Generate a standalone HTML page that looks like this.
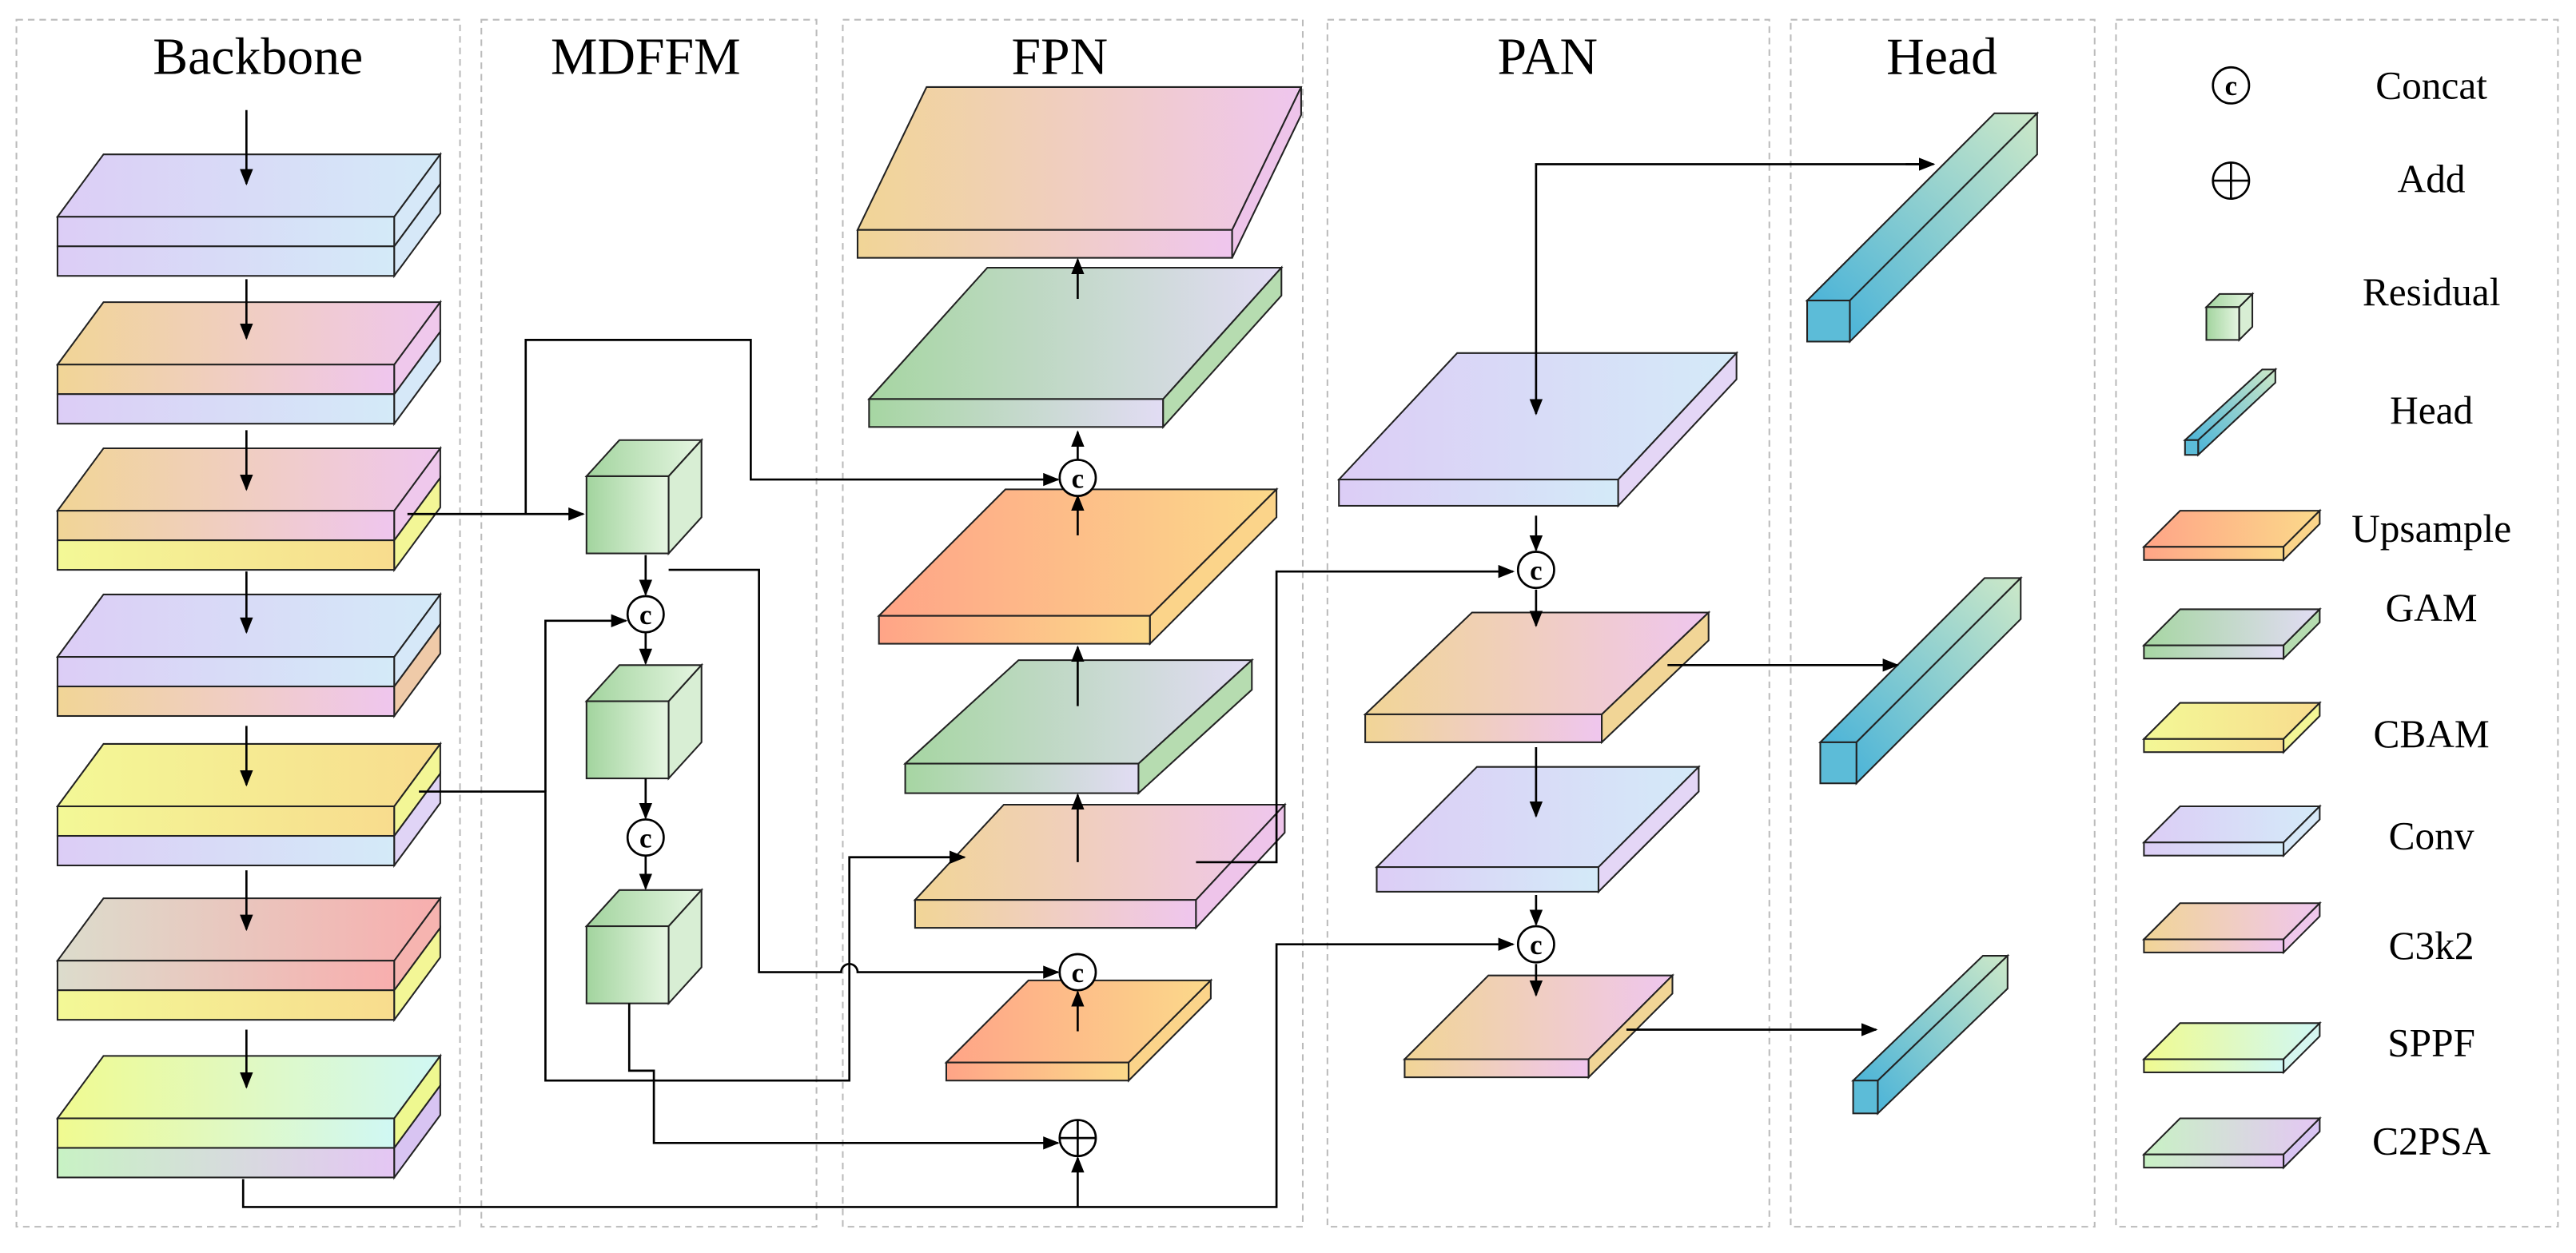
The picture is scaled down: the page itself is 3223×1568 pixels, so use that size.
<!DOCTYPE html>
<html><head><meta charset="utf-8"><style>html,body{margin:0;padding:0;background:#fff}svg{display:block}</style></head>
<body>
<svg width="3223" height="1568" viewBox="0 0 1568 763" preserveAspectRatio="none" xmlns="http://www.w3.org/2000/svg" font-family="Liberation Serif, serif">
<defs>
<linearGradient id="conv"><stop offset="0" stop-color="#dccdf6"/><stop offset="1" stop-color="#d4eaf8"/></linearGradient>
<linearGradient id="c3k2"><stop offset="0" stop-color="#f1d596"/><stop offset="1" stop-color="#efc6ee"/></linearGradient>
<linearGradient id="cbam"><stop offset="0" stop-color="#f3f896"/><stop offset="1" stop-color="#f8dc8e"/></linearGradient>
<linearGradient id="gam"><stop offset="0" stop-color="#a6d6a2"/><stop offset="1" stop-color="#e2dcf4"/></linearGradient>
<linearGradient id="ups"><stop offset="0" stop-color="#ffa487"/><stop offset="1" stop-color="#fbd98a"/></linearGradient>
<linearGradient id="sppf"><stop offset="0" stop-color="#f0fa90"/><stop offset="1" stop-color="#d0f8f4"/></linearGradient>
<linearGradient id="c2psa"><stop offset="0" stop-color="#c8f2c4"/><stop offset="1" stop-color="#e4c6f4"/></linearGradient>
<linearGradient id="grayred"><stop offset="0" stop-color="#dcdccc"/><stop offset="1" stop-color="#f8aeae"/></linearGradient>
<linearGradient id="cube"><stop offset="0" stop-color="#a2d49e"/><stop offset="1" stop-color="#e6f6e2"/></linearGradient>
<linearGradient id="head" x1="0" y1="1" x2="1" y2="0"><stop offset="0" stop-color="#4cb4d8"/><stop offset="1" stop-color="#cce8c8"/></linearGradient>
<marker id="a" markerWidth="10" markerHeight="8" refX="9" refY="4" orient="auto" markerUnits="userSpaceOnUse"><path d="M0,0 L10,4 L0,8 z" fill="#000"/></marker>
</defs>
<g fill="none" stroke="#bbb" stroke-dasharray="4,3" stroke-width="1">
<rect x="10" y="12" width="270" height="735"/><rect x="293" y="12" width="204" height="735"/><rect x="513" y="12" width="280" height="735"/><rect x="808" y="12" width="269" height="735"/><rect x="1090" y="12" width="185" height="735"/><rect x="1288" y="12" width="269" height="735"/>
</g>
<g font-size="32" text-anchor="middle">
<text x="157" y="45">Backbone</text><text x="393" y="45">MDFFM</text><text x="645" y="45">FPN</text><text x="942" y="45">PAN</text><text x="1182" y="45">Head</text>
</g>
<g stroke="#222" stroke-width="1">
<g transform="translate(0,132)"><polygon points="35,0 240,0 268,-38 63,-38" fill="url(#conv)"/><rect x="35" y="0" width="205" height="18" fill="url(#conv)"/><rect x="35" y="18" width="205" height="18" fill="url(#conv)"/><polygon points="240,0 268,-38 268,-20 240,18" fill="#d6e8f8"/><polygon points="240,18 268,-20 268,-2 240,36" fill="#d6e8f8"/></g>
<g transform="translate(0,222)"><polygon points="35,0 240,0 268,-38 63,-38" fill="url(#c3k2)"/><rect x="35" y="0" width="205" height="18" fill="url(#c3k2)"/><rect x="35" y="18" width="205" height="18" fill="url(#conv)"/><polygon points="240,0 268,-38 268,-20 240,18" fill="#efc8ec"/><polygon points="240,18 268,-20 268,-2 240,36" fill="#d6e8f8"/></g>
<g transform="translate(0,311)"><polygon points="35,0 240,0 268,-38 63,-38" fill="url(#c3k2)"/><rect x="35" y="0" width="205" height="18" fill="url(#c3k2)"/><rect x="35" y="18" width="205" height="18" fill="url(#cbam)"/><polygon points="240,0 268,-38 268,-20 240,18" fill="#efc8ec"/><polygon points="240,18 268,-20 268,-2 240,36" fill="#f3f696"/></g>
<g transform="translate(0,400)"><polygon points="35,0 240,0 268,-38 63,-38" fill="url(#conv)"/><rect x="35" y="0" width="205" height="18" fill="url(#conv)"/><rect x="35" y="18" width="205" height="18" fill="url(#c3k2)"/><polygon points="240,0 268,-38 268,-20 240,18" fill="#d6e8f8"/><polygon points="240,18 268,-20 268,-2 240,36" fill="#efcaa8"/></g>
<g transform="translate(0,491)"><polygon points="35,0 240,0 268,-38 63,-38" fill="url(#cbam)"/><rect x="35" y="0" width="205" height="18" fill="url(#cbam)"/><rect x="35" y="18" width="205" height="18" fill="url(#conv)"/><polygon points="240,0 268,-38 268,-20 240,18" fill="#f3f696"/><polygon points="240,18 268,-20 268,-2 240,36" fill="#e0d4f6"/></g>
<g transform="translate(0,585)"><polygon points="35,0 240,0 268,-38 63,-38" fill="url(#grayred)"/><rect x="35" y="0" width="205" height="18" fill="url(#grayred)"/><rect x="35" y="18" width="205" height="18" fill="url(#cbam)"/><polygon points="240,0 268,-38 268,-20 240,18" fill="#f6b4b0"/><polygon points="240,18 268,-20 268,-2 240,36" fill="#f3f696"/></g>
<g transform="translate(0,681)"><polygon points="35,0 240,0 268,-38 63,-38" fill="url(#sppf)"/><rect x="35" y="0" width="205" height="18" fill="url(#sppf)"/><rect x="35" y="18" width="205" height="18" fill="url(#c2psa)"/><polygon points="240,0 268,-38 268,-20 240,18" fill="#eef890"/><polygon points="240,18 268,-20 268,-2 240,36" fill="#d8c4f2"/></g>
<g transform="translate(357,290)"><polygon points="0,0 50,0 70,-22 20,-22" fill="url(#cube)"/><rect x="0" y="0" width="50" height="47" fill="url(#cube)"/><polygon points="50,0 70,-22 70,25 50,47" fill="#d8eed4"/></g>
<g transform="translate(357,427)"><polygon points="0,0 50,0 70,-22 20,-22" fill="url(#cube)"/><rect x="0" y="0" width="50" height="47" fill="url(#cube)"/><polygon points="50,0 70,-22 70,25 50,47" fill="#d8eed4"/></g>
<g transform="translate(357,564)"><polygon points="0,0 50,0 70,-22 20,-22" fill="url(#cube)"/><rect x="0" y="0" width="50" height="47" fill="url(#cube)"/><polygon points="50,0 70,-22 70,25 50,47" fill="#d8eed4"/></g>
<polygon points="522,140 750,140 792,53 564,53" fill="url(#c3k2)"/><rect x="522" y="140" width="228" height="17" fill="url(#c3k2)"/><polygon points="750,140 792,53 792,70 750,157" fill="#eec4ea"/>
<polygon points="529,243 708,243 780,163 601,163" fill="url(#gam)"/><rect x="529" y="243" width="179" height="17" fill="url(#gam)"/><polygon points="708,243 780,163 780,180 708,260" fill="#b6dcb0"/>
<polygon points="535,375 700,375 777,298 612,298" fill="url(#ups)"/><rect x="535" y="375" width="165" height="17" fill="url(#ups)"/><polygon points="700,375 777,298 777,315 700,392" fill="#fbd48a"/>
<polygon points="551,465 693,465 762,402 620,402" fill="url(#gam)"/><rect x="551" y="465" width="142" height="18" fill="url(#gam)"/><polygon points="693,465 762,402 762,420 693,483" fill="#b6dcb0"/>
<polygon points="557,548 728,548 782,490 611,490" fill="url(#c3k2)"/><rect x="557" y="548" width="171" height="17" fill="url(#c3k2)"/><polygon points="728,548 782,490 782,507 728,565" fill="#eec4ea"/>
<polygon points="576,647 687,647 737,597 626,597" fill="url(#ups)"/><rect x="576" y="647" width="111" height="11" fill="url(#ups)"/><polygon points="687,647 737,597 737,608 687,658" fill="#fbd48a"/>
<polygon points="815,292 985,292 1057,215 887,215" fill="url(#conv)"/><rect x="815" y="292" width="170" height="16" fill="url(#conv)"/><polygon points="985,292 1057,215 1057,231 985,308" fill="#e4d6f6"/>
<polygon points="831,435 975,435 1040,373 896,373" fill="url(#c3k2)"/><rect x="831" y="435" width="144" height="17" fill="url(#c3k2)"/><polygon points="975,435 1040,373 1040,390 975,452" fill="#f1d596"/>
<polygon points="838,528 973,528 1034,467 899,467" fill="url(#conv)"/><rect x="838" y="528" width="135" height="15" fill="url(#conv)"/><polygon points="973,528 1034,467 1034,482 973,543" fill="#e4d6f6"/>
<polygon points="855,645 967,645 1018,594 906,594" fill="url(#c3k2)"/><rect x="855" y="645" width="112" height="11" fill="url(#c3k2)"/><polygon points="967,645 1018,594 1018,605 967,656" fill="#f1d596"/>
<polygon points="1100,183 1126,183 1240,69 1214,69" fill="url(#head)"/><polygon points="1126,183 1240,69 1240,94 1126,208" fill="url(#head)"/><rect x="1100" y="183" width="26" height="25" fill="#5cbcd8"/>
<polygon points="1108,452 1130,452 1230,352 1208,352" fill="url(#head)"/><polygon points="1130,452 1230,352 1230,377 1130,477" fill="url(#head)"/><rect x="1108" y="452" width="22" height="25" fill="#5cbcd8"/>
<polygon points="1128,658 1143,658 1222,582 1207,582" fill="url(#head)"/><polygon points="1143,658 1222,582 1222,602 1143,678" fill="url(#head)"/><rect x="1128" y="658" width="15" height="20" fill="#5cbcd8"/>
<g transform="translate(1343,187)"><polygon points="0,0 20,0 28,-8 8,-8" fill="url(#cube)"/><rect x="0" y="0" width="20" height="20" fill="url(#cube)"/><polygon points="20,0 28,-8 28,12 20,20" fill="#d8eed4"/></g>
<polygon points="1330,268 1338,268 1385,225 1377,225" fill="url(#head)"/><polygon points="1338,268 1385,225 1385,233 1338,277" fill="url(#head)"/><rect x="1330" y="268" width="8" height="9" fill="#5cbcd8"/>
<g transform="translate(1305,333)"><polygon points="0,0 85,0 107,-22 22,-22" fill="url(#ups)"/><rect x="0" y="0" width="85" height="8" fill="url(#ups)"/><polygon points="85,0 107,-22 107,-14 85,8" fill="#fbd48a"/></g>
<g transform="translate(1305,393)"><polygon points="0,0 85,0 107,-22 22,-22" fill="url(#gam)"/><rect x="0" y="0" width="85" height="8" fill="url(#gam)"/><polygon points="85,0 107,-22 107,-14 85,8" fill="#b6dcb0"/></g>
<g transform="translate(1305,450)"><polygon points="0,0 85,0 107,-22 22,-22" fill="url(#cbam)"/><rect x="0" y="0" width="85" height="8" fill="url(#cbam)"/><polygon points="85,0 107,-22 107,-14 85,8" fill="#f3f696"/></g>
<g transform="translate(1305,513)"><polygon points="0,0 85,0 107,-22 22,-22" fill="url(#conv)"/><rect x="0" y="0" width="85" height="8" fill="url(#conv)"/><polygon points="85,0 107,-22 107,-14 85,8" fill="#d6e8f8"/></g>
<g transform="translate(1305,572)"><polygon points="0,0 85,0 107,-22 22,-22" fill="url(#c3k2)"/><rect x="0" y="0" width="85" height="8" fill="url(#c3k2)"/><polygon points="85,0 107,-22 107,-14 85,8" fill="#efc8ec"/></g>
<g transform="translate(1305,645)"><polygon points="0,0 85,0 107,-22 22,-22" fill="url(#sppf)"/><rect x="0" y="0" width="85" height="8" fill="url(#sppf)"/><polygon points="85,0 107,-22 107,-14 85,8" fill="#d6f6f0"/></g>
<g transform="translate(1305,703)"><polygon points="0,0 85,0 107,-22 22,-22" fill="url(#c2psa)"/><rect x="0" y="0" width="85" height="8" fill="url(#c2psa)"/><polygon points="85,0 107,-22 107,-14 85,8" fill="#d8c4f2"/></g>
</g>
<g fill="none" stroke="#000" stroke-width="1.3">
<path d="M150,67V112" marker-end="url(#a)"/><path d="M150,170V206" marker-end="url(#a)"/><path d="M150,262V298" marker-end="url(#a)"/><path d="M150,348V385" marker-end="url(#a)"/><path d="M150,442V478" marker-end="url(#a)"/><path d="M150,530V566" marker-end="url(#a)"/><path d="M150,627V662" marker-end="url(#a)"/>
<path d="M248,313H355" marker-end="url(#a)"/>
<path d="M320,313V207H457V292H644" marker-end="url(#a)"/>
<path d="M393,338V362" marker-end="url(#a)"/>
<path d="M407,347H462V592H512A5,5 0 0 1 522,592H644" marker-end="url(#a)"/>
<path d="M255,482H332V658H517V522H587" marker-end="url(#a)"/>
<path d="M332,482V378H381" marker-end="url(#a)"/>
<path d="M393,385V404" marker-end="url(#a)"/><path d="M393,474V498" marker-end="url(#a)"/><path d="M393,521V541" marker-end="url(#a)"/>
<path d="M383,611V652H398V696H644" marker-end="url(#a)"/>
<path d="M148,718V735H777V575H921" marker-end="url(#a)"/>
<path d="M656,735V705" marker-end="url(#a)"/>
<path d="M728,525H777V348H921" marker-end="url(#a)"/>
<path d="M656,282V263" marker-end="url(#a)"/><path d="M656,182V158" marker-end="url(#a)"/><path d="M656,326V302" marker-end="url(#a)"/><path d="M656,430V394" marker-end="url(#a)"/><path d="M656,525V484" marker-end="url(#a)"/><path d="M656,628V604" marker-end="url(#a)"/>
<path d="M1176,100H935V252" marker-end="url(#a)"/><path d="M1160,100H1177" marker-end="url(#a)"/>
<path d="M935,314V335" marker-end="url(#a)"/><path d="M935,359V381" marker-end="url(#a)"/>
<path d="M1015,405H1155" marker-end="url(#a)"/>
<path d="M935,455V497" marker-end="url(#a)"/><path d="M935,545V563" marker-end="url(#a)"/><path d="M935,587V606" marker-end="url(#a)"/>
<path d="M990,627H1142" marker-end="url(#a)"/>
</g>
<g fill="#fff" stroke="#000" stroke-width="1.3">
<circle cx="393" cy="374" r="11"/><circle cx="393" cy="510" r="11"/><circle cx="656" cy="291" r="11"/><circle cx="656" cy="592" r="11"/><circle cx="935" cy="347" r="11"/><circle cx="935" cy="575" r="11"/><circle cx="656" cy="693" r="11"/>
<circle cx="1358" cy="52" r="11"/><circle cx="1358" cy="110" r="11"/>
</g>
<path d="M645,693H667M656,682V704M1347,110H1369M1358,99V121" stroke="#000" stroke-width="1.3"/>
<g font-size="17" text-anchor="middle" font-weight="bold">
<text x="393" y="380">c</text><text x="393" y="516">c</text><text x="656" y="297">c</text><text x="656" y="598">c</text><text x="935" y="353">c</text><text x="935" y="581">c</text><text x="1358" y="58">c</text>
</g>
<g font-size="24" text-anchor="middle">
<text x="1480" y="60">Concat</text><text x="1480" y="117">Add</text><text x="1480" y="186">Residual</text><text x="1480" y="258">Head</text><text x="1480" y="330">Upsample</text><text x="1480" y="378">GAM</text><text x="1480" y="455">CBAM</text><text x="1480" y="517">Conv</text><text x="1480" y="584">C3k2</text><text x="1480" y="643">SPPF</text><text x="1480" y="703">C2PSA</text>
</g>
</svg>
</body></html>
